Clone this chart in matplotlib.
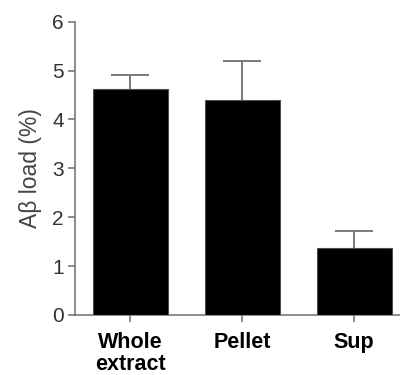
import matplotlib
matplotlib.use('Agg')
import matplotlib.pyplot as plt
import numpy as np

categories = ['Whole\nextract', 'Pellet', 'Sup']
values = [4.63, 4.40, 1.37]
errors = [0.27, 0.80, 0.35]
yticks = [0, 1, 2, 3, 4, 5, 6]

plt.rcParams['font.family'] = ['Liberation Sans', 'DejaVu Sans']

axis_grey = '#6e6e6e'

fig = plt.figure(figsize=(4, 3.75), dpi=100)
ax = fig.add_axes([0.1875, 0.16, 0.8125, 0.7821])

x = np.arange(len(categories))
ax.bar(x, values, width=0.67, color='black', edgecolor='#505050', linewidth=0.8, zorder=3)
# symmetric bars drawn behind the columns, so only the upper half shows
ax.errorbar(x, values, yerr=errors, fmt='none',
            ecolor=axis_grey, elinewidth=1.3, capsize=13.5, capthick=1.3, zorder=2)

ax.set_xlim(-0.496, 2.41)
ax.set_ylim(0, 6)
ax.set_yticks(yticks)
ax.set_xticks(x)
ax.set_xticklabels(categories, fontsize=15.5, fontweight='bold', color='black', linespacing=1.1)
ax.tick_params(axis='y', labelsize=15, labelcolor='#333333', color=axis_grey, length=5, width=1.1, pad=3)
ax.tick_params(axis='x', color=axis_grey, length=5, width=1.1, pad=7)

ax.set_ylabel('A\u03b2 load (%)', fontsize=16.5, color='#444444', labelpad=7)

for s in ['top', 'right']:
    ax.spines[s].set_visible(False)
for s in ['left', 'bottom']:
    ax.spines[s].set_color(axis_grey)
    ax.spines[s].set_linewidth(1.1)

fig.savefig('out.png', dpi=100)
